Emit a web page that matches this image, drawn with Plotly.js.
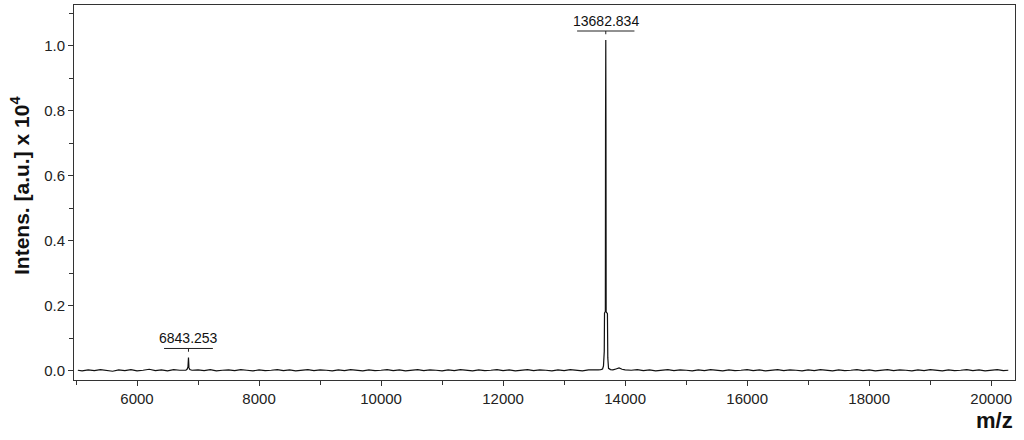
<!DOCTYPE html>
<html>
<head>
<meta charset="utf-8">
<script src="https://cdn.plot.ly/plotly-3.0.1.min.js"></script>
<style>
  html, body { margin: 0; padding: 0; background: #fff; }
  #graph { width: 1024px; height: 440px; }
</style>
</head>
<body>
<div id="graph"></div>
<script>
// m/z values of the spectrum (baseline points + points around the two peaks)
const mz = [
  5030, 5100, 5200, 5300, 5400, 5500, 5600, 5700, 5800, 5900,
  6000, 6100, 6200, 6300, 6400, 6500, 6600, 6700,
  6760, 6800, 6820, 6835, 6843.253, 6851, 6865, 6900,
  7000, 7100, 7200, 7300, 7400, 7500, 7600, 7700, 7800, 7900,
  8000, 8100, 8200, 8300, 8400, 8500, 8600, 8700, 8800, 8900,
  9000, 9100, 9200, 9300, 9400, 9500, 9600, 9700, 9800, 9900,
  10000, 10100, 10200, 10300, 10400, 10500, 10600, 10700, 10800, 10900,
  11000, 11100, 11200, 11300, 11400, 11500, 11600, 11700, 11800, 11900,
  12000, 12100, 12200, 12300, 12400, 12500, 12600, 12700, 12800, 12900,
  13000, 13100, 13200, 13300, 13400, 13500,
  13560, 13600, 13630, 13645, 13652, 13658, 13662, 13670, 13676, 13679,
  13682.834, 13686, 13689, 13696, 13704, 13710, 13716, 13728, 13760, 13800,
  13850, 13900, 13950, 14000,
  14100, 14200, 14300, 14400, 14500, 14600, 14700, 14800, 14900, 15000,
  15100, 15200, 15300, 15400, 15500, 15600, 15700, 15800, 15900, 16000,
  16100, 16200, 16300, 16400, 16500, 16600, 16700, 16800, 16900, 17000,
  17100, 17200, 17300, 17400, 17500, 17600, 17700, 17800, 17900, 18000,
  18100, 18200, 18300, 18400, 18500, 18600, 18700, 18800, 18900, 19000,
  19100, 19200, 19300, 19400, 19500, 19600, 19700, 19800, 19900, 20000,
  20100, 20200, 20280
];

// intensity in units of 10^4 a.u.
const intens = [
  0.002, 0.000, 0.003, 0.001, 0.004, 0.002, -0.001, 0.003, 0.001, 0.004,
  0.000, 0.002, 0.005, 0.001, 0.003, 0.000, 0.004, 0.002,
  0.003, 0.002, 0.005, 0.012, 0.041, 0.010, 0.004, 0.002,
  0.003, 0.001, 0.004, 0.000, 0.002, 0.003, 0.001, 0.004, 0.002, 0.000,
  0.003, 0.001, 0.002, 0.004, 0.001, 0.003, 0.000, 0.002, 0.004, 0.001,
  0.003, 0.002, 0.000, 0.003, 0.001, 0.004, 0.002, 0.000, 0.003, 0.001,
  0.002, 0.004, 0.001, 0.003, 0.000, 0.002, 0.004, 0.001, 0.003, 0.002,
  0.000, 0.003, 0.001, 0.004, 0.002, 0.000, 0.003, 0.001, 0.002, 0.004,
  0.001, 0.003, 0.000, 0.002, 0.004, 0.001, 0.003, 0.002, 0.000, 0.003,
  0.001, 0.004, 0.002, 0.000, 0.003, 0.002,
  0.003, 0.004, 0.006, 0.015, 0.042, 0.060, 0.178, 0.180, 0.183, 0.752,
  1.018, 0.748, 0.182, 0.180, 0.178, 0.176, 0.040, 0.008, 0.004, 0.003,
  0.006, 0.009, 0.005, 0.003,
  0.002, 0.004, 0.001, 0.003, 0.000, 0.002, 0.004, 0.001, 0.003, 0.002,
  0.000, 0.003, 0.001, 0.004, 0.002, 0.000, 0.003, 0.001, 0.002, 0.004,
  0.001, 0.003, 0.000, 0.002, 0.004, 0.001, 0.003, 0.002, 0.000, 0.003,
  0.001, 0.004, 0.002, 0.000, 0.003, 0.001, 0.002, 0.004, 0.001, 0.003,
  0.000, 0.002, 0.004, 0.001, 0.003, 0.002, 0.000, 0.003, 0.001, 0.004,
  0.002, 0.000, 0.003, 0.001, 0.002, 0.004, 0.001, 0.003, 0.000, 0.002,
  0.004, 0.001, 0.002
];

// labelled peaks
const peakMz = [6843.253, 13682.834];
const peakTop = [0.041, 1.018];
const peakLabels = ["6843.253", "13682.834"];

const xTicks = [6000, 8000, 10000, 12000, 14000, 16000, 18000, 20000];
const yTicks = [0.0, 0.2, 0.4, 0.6, 0.8, 1.0];

const axisColor = '#333';
const fontFam = 'Liberation Sans, Arial, sans-serif';

// bracket + label above each peak
let shapes = [];
let annotations = [];
peakMz.forEach((m, i) => {
  const half = i === 0 ? 400 : 470;
  const barY = peakTop[i] + 0.028;
  shapes.push({type: 'line', xref: 'x', yref: 'y', x0: m - half, x1: m + half, y0: barY, y1: barY,
               line: {color: '#222', width: 1}});
  shapes.push({type: 'line', xref: 'x', yref: 'y', x0: m, x1: m, y0: barY, y1: barY - 0.01,
               line: {color: '#222', width: 1}});
  annotations.push({x: m, y: barY, xref: 'x', yref: 'y', text: peakLabels[i], showarrow: false,
                    yanchor: 'bottom', yshift: 0, font: {family: fontFam, size: 14, color: '#111'}});
});

// axis titles placed as annotations (y title sits close to the tick labels)
annotations.push({xref: 'paper', yref: 'paper', x: 1.0, y: -0.07, xanchor: 'right', yanchor: 'top',
                  text: '<b>m/z</b>', showarrow: false, font: {family: fontFam, size: 22, color: '#111'}});
annotations.push({xref: 'paper', yref: 'paper', x: -0.0574, y: 0.52, xanchor: 'center', yanchor: 'middle',
                  textangle: -90, text: '<b>Intens. [a.u.] x 10<sup>4</sup></b>', showarrow: false,
                  font: {family: fontFam, size: 21, color: '#111'}});

const spectrum = {
  x: mz, y: intens, mode: 'lines', type: 'scatter',
  line: {color: '#111', width: 1.2}, hoverinfo: 'skip'
};

const layout = {
  width: 1024, height: 440,
  margin: {l: 74, r: 9, t: 5, b: 60},
  paper_bgcolor: '#fff', plot_bgcolor: '#fff',
  showlegend: false,
  font: {family: fontFam, size: 15, color: axisColor},
  xaxis: {
    range: [4967, 20390],
    tickvals: xTicks, tickformat: 'd', ticks: 'outside', ticklen: 5, tickcolor: axisColor,
    minor: {dtick: 1000, tick0: 0, ticks: 'outside', ticklen: 4, tickcolor: axisColor},
    showline: true, linecolor: axisColor, linewidth: 1, mirror: true,
    showgrid: false, zeroline: false,
    tickfont: {size: 15, color: '#222'}
  },
  yaxis: {
    range: [-0.028, 1.126],
    tickvals: yTicks, tickformat: '.1f', ticks: 'outside', ticklen: 5, tickcolor: axisColor,
    minor: {dtick: 0.1, tick0: 0, ticks: 'outside', ticklen: 4, tickcolor: axisColor},
    showline: true, linecolor: axisColor, linewidth: 1, mirror: true,
    showgrid: false, zeroline: false,
    tickfont: {size: 15, color: '#222'}
  },
  shapes: shapes,
  annotations: annotations
};

Plotly.newPlot('graph', [spectrum], layout, {displayModeBar: false, staticPlot: true});
</script>
</body>
</html>
